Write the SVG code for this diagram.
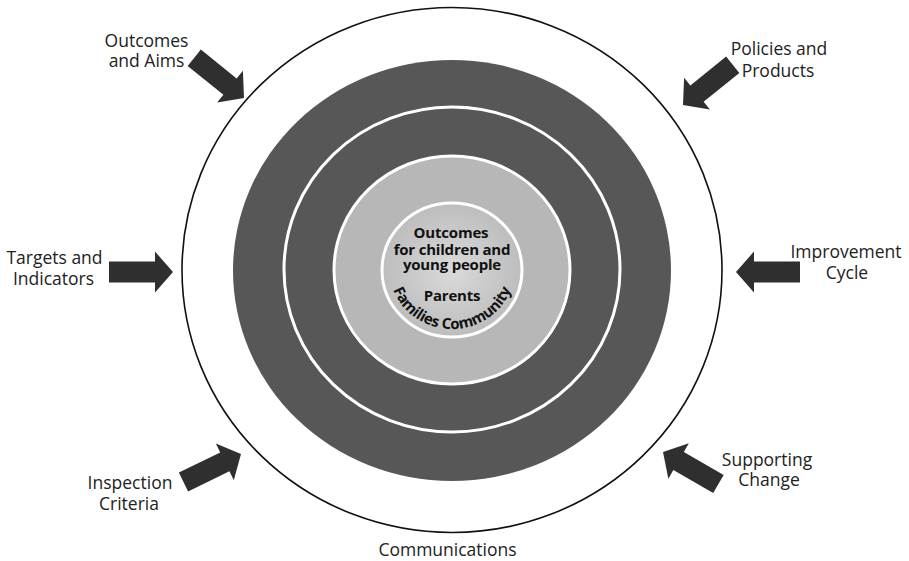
<svg xmlns="http://www.w3.org/2000/svg" xmlns:xlink="http://www.w3.org/1999/xlink" width="909" height="561" viewBox="0 0 909 561">
  <defs>
    <radialGradient id="core" cx="50%" cy="50%" r="50%">
      <stop offset="0" stop-color="#dadada"/>
      <stop offset="1" stop-color="#bdbdbd"/>
    </radialGradient>
    <path id="arr" d="M0,0 L-18,-20.5 L-18,-10.5 L-64,-10.5 L-64,10.5 L-18,10.5 L-18,20.5 Z"/>
    <path id="arcText" d="M 389 268 A 63 61 0 0 0 515 268"/>
  </defs>
  <style>
    .lbl { font-family: "Open Sans", "Noto Sans", "Liberation Sans", sans-serif; font-size: 17.5px; fill: #222; text-anchor: middle; }
    .core { font-family: "Open Sans", "Noto Sans", "Liberation Sans", sans-serif; font-size: 15px; font-weight: bold; fill: #111; text-anchor: middle; letter-spacing: -0.2px; }
    .arrow { fill: #2f2f2f; }
  </style>
  <rect width="909" height="561" fill="#ffffff"/>

  <g id="outer-ring">
    <ellipse cx="452" cy="270" rx="270" ry="262.5" fill="none" stroke="#111" stroke-width="1.6"/>
  </g>

  <g id="dark-ring">
    <ellipse cx="452" cy="270.5" rx="219" ry="210.5" fill="#575757"/>
    <ellipse cx="452" cy="269.5" rx="168" ry="162.5" fill="none" stroke="#ffffff" stroke-width="3"/>
  </g>

  <g id="light-ring">
    <ellipse cx="452" cy="270" rx="118" ry="114" fill="#b7b7b7" stroke="#ffffff" stroke-width="3"/>
  </g>

  <g id="core-node">
    <ellipse cx="452" cy="270" rx="70" ry="67" fill="url(#core)" stroke="#ffffff" stroke-width="3"/>
    <text class="core"><tspan x="451" y="238">Outcomes</tspan><tspan x="452" y="254.5">for children and</tspan><tspan x="452" y="270">young people</tspan></text>
    <text class="core" x="452" y="301">Parents</text>
    <text class="core" font-size="14"><textPath xlink:href="#arcText" href="#arcText" startOffset="50%">Families Community</textPath></text>
  </g>

  <g id="outcomes-aims">
    <text class="lbl"><tspan x="146.5" y="47">Outcomes</tspan><tspan x="146.5" y="67">and Aims</tspan></text>
  </g>
  <g id="policies-products">
    <text class="lbl"><tspan x="779" y="55">Policies and</tspan><tspan x="778" y="76.5">Products</tspan></text>
  </g>
  <g id="targets-indicators">
    <text class="lbl"><tspan x="54.5" y="263.5">Targets and</tspan><tspan x="53.5" y="285">Indicators</tspan></text>
  </g>
  <g id="improvement-cycle">
    <text class="lbl"><tspan x="846" y="258">Improvement</tspan><tspan x="847" y="279">Cycle</tspan></text>
  </g>
  <g id="inspection-criteria">
    <text class="lbl"><tspan x="130" y="489">Inspection</tspan><tspan x="129" y="510">Criteria</tspan></text>
  </g>
  <g id="supporting-change">
    <text class="lbl"><tspan x="767" y="466">Supporting</tspan><tspan x="769" y="486">Change</tspan></text>
  </g>
  <g id="communications">
    <text class="lbl" x="447.5" y="556">Communications</text>
  </g>

  <g id="connectors" class="arrow">
    <use href="#arr" xlink:href="#arr" transform="translate(244,98) rotate(39)"/>
    <use href="#arr" xlink:href="#arr" transform="translate(683,105) rotate(141)"/>
    <use href="#arr" xlink:href="#arr" transform="translate(173,272)"/>
    <use href="#arr" xlink:href="#arr" transform="translate(736,272) rotate(180)"/>
    <use href="#arr" xlink:href="#arr" transform="translate(241,454) rotate(-26)"/>
    <use href="#arr" xlink:href="#arr" transform="translate(663,452) rotate(210)"/>
  </g>
</svg>
